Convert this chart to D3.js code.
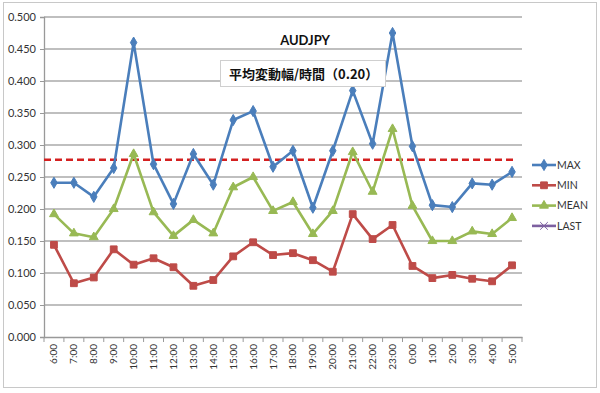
<!DOCTYPE html>
<html><head><meta charset="utf-8">
<script src="https://cdn.jsdelivr.net/npm/d3@7"></script>
<style>body{margin:0;background:#fff}svg{display:block}</style>
</head><body>
<script>
const categories = ["6:00","7:00","8:00","9:00","10:00","11:00","12:00","13:00","14:00","15:00","16:00","17:00","18:00","19:00","20:00","21:00","22:00","23:00","0:00","1:00","2:00","3:00","4:00","5:00"];
const maxValues  = [0.241,0.241,0.219,0.264,0.460,0.270,0.208,0.286,0.238,0.339,0.353,0.266,0.291,0.202,0.291,0.385,0.302,0.475,0.298,0.206,0.203,0.240,0.238,0.258];
const minValues  = [0.144,0.084,0.093,0.137,0.113,0.123,0.109,0.080,0.089,0.126,0.148,0.128,0.131,0.120,0.102,0.192,0.153,0.175,0.111,0.092,0.097,0.091,0.087,0.112];
const meanValues = [0.192,0.162,0.156,0.200,0.286,0.195,0.158,0.183,0.162,0.234,0.250,0.197,0.211,0.161,0.197,0.289,0.227,0.325,0.205,0.150,0.150,0.165,0.161,0.186];
const lastValues = [];
const averageLine = 0.277;
const yTicks = [0,0.05,0.1,0.15,0.2,0.25,0.3,0.35,0.4,0.45,0.5];
const title = "AUDJPY";
const noteText = "平均変動幅/時間（0.20）";

const W=600,H=393;
const svg=d3.select("body").append("svg").attr("width",W).attr("height",H);
svg.append("rect").attr("x",3.5).attr("y",2.5).attr("width",593).attr("height",385).attr("fill","#fff").attr("stroke","#c8c8c8");

const L=44,R=522,T=17,B=337;
const x=d3.scaleBand().domain(categories).range([L,R]);
const y=d3.scaleLinear().domain([0,0.5]).range([B,T]);
const font="Lato, 'Liberation Sans', sans-serif";

// gridlines
svg.append("g").selectAll("line").data(yTicks.slice(1)).join("line")
 .attr("x1",L).attr("x2",R).attr("y1",d=>y(d)).attr("y2",d=>y(d))
 .attr("stroke","#aaaaaa").attr("stroke-width",1.3);

// y axis
const ya=svg.append("g").attr("transform",`translate(${L},0)`)
 .call(d3.axisLeft(y).tickValues(yTicks).tickFormat(d3.format(".3f")).tickSize(4).tickPadding(4));
ya.select(".domain").attr("stroke","#999").attr("stroke-width",1.3);
ya.selectAll(".tick line").attr("stroke","#999");
ya.selectAll("text").attr("font-family",font).attr("font-size",11).attr("fill","#333");

// x axis
const xa=svg.append("g").attr("transform",`translate(0,${B})`)
 .call(d3.axisBottom(x).tickSize(0).tickPadding(0));
xa.select(".domain").attr("stroke","#999").attr("stroke-width",1.3);
xa.selectAll(".tick text").attr("font-family",font).attr("font-size",10).attr("fill","#333")
 .attr("text-anchor","end").attr("dy","0.35em").attr("transform","translate(0,7) rotate(-90)");
// boundary ticks
svg.append("g").selectAll("line").data(d3.range(categories.length+1)).join("line")
 .attr("x1",i=>L+i*x.step()).attr("x2",i=>L+i*x.step()).attr("y1",B).attr("y2",B+5)
 .attr("stroke","#999");

// average dashed line
svg.append("line").attr("x1",L).attr("x2",514).attr("y1",y(averageLine)).attr("y2",y(averageLine))
 .attr("stroke","#d42020").attr("stroke-width",2.5).attr("stroke-dasharray","7,4");

const cx=d=>x(d)+x.bandwidth()/2;
const series=[
 {name:"MAX",values:maxValues,color:"#4a7ebb",sym:d3.symbolDiamond,size:36},
 {name:"MIN",values:minValues,color:"#be4b48",sym:d3.symbolSquare,size:46},
 {name:"MEAN",values:meanValues,color:"#98b954",sym:d3.symbolTriangle,size:34},
 {name:"LAST",values:lastValues,color:"#7d60a0",sym:d3.symbolX,size:40}
];
const line=d3.line().x(d=>cx(d.c)).y(d=>y(d.v));
series.forEach(s=>{
 const pts=s.values.map((v,i)=>({c:categories[i],v}));
 if(!pts.length) return;
 svg.append("path").datum(pts).attr("d",line).attr("fill","none").attr("stroke",s.color).attr("stroke-width",2.6).attr("stroke-linejoin","round");
 svg.append("g").selectAll("path").data(pts).join("path")
  .attr("d",d3.symbol().type(s.sym).size(s.size))
  .attr("transform",d=>`translate(${cx(d.c)},${y(d.v)})`)
  .attr("fill",s.color).attr("stroke",s.color);
});

// title
svg.append("text").attr("x",305).attr("y",45).attr("text-anchor","middle")
 .attr("font-family",font).attr("font-weight","bold").attr("font-size",13).attr("fill","#111").text(title);
svg.append("rect").attr("x",220.5).attr("y",60.5).attr("width",165).attr("height",26)
 .attr("fill","#fff").attr("stroke","#cfcfcf");
svg.append("text").attr("x",229).attr("y",79)
 .attr("font-family","'Noto Sans CJK JP', sans-serif").attr("font-weight","bold").attr("font-size",13).attr("fill","#111").text(noteText);

// legend
const lg=svg.append("g");
series.forEach((s,i)=>{
 const yy=165+i*20.3;
 lg.append("line").attr("x1",532).attr("x2",556).attr("y1",yy).attr("y2",yy).attr("stroke",s.color).attr("stroke-width",2.6);
 lg.append("path").attr("d",d3.symbol().type(s.sym).size(s.size)).attr("transform",`translate(544,${yy})`).attr("fill",s.color).attr("stroke",s.color);
 lg.append("text").attr("x",557).attr("y",yy).attr("dy","0.35em").attr("font-family",font).attr("font-size",10.5).attr("fill","#333").text(s.name);
});
</script>
</body></html>
